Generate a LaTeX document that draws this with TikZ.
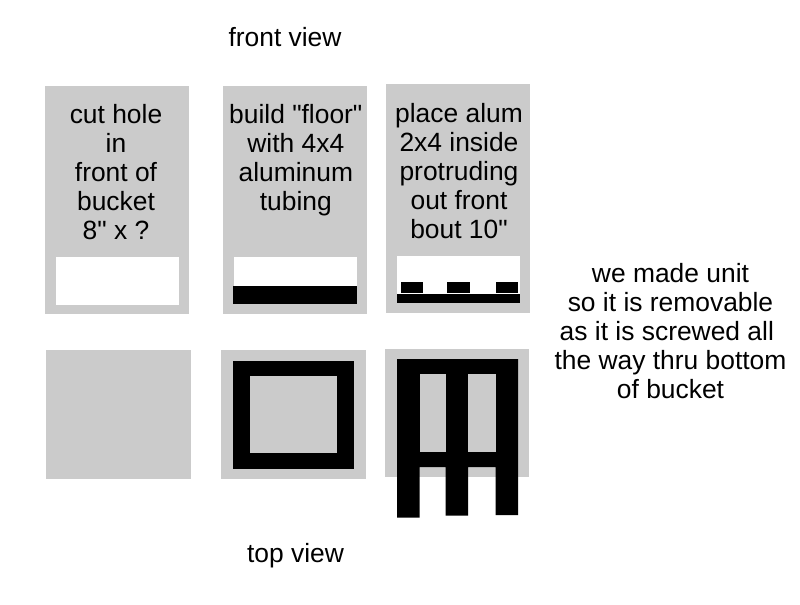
\documentclass[tikz,border=0pt]{standalone}
\usepackage{fontspec}
\setmainfont{Liberation Sans}[Ligatures=TeXOff]
\tikzset{every picture/.style={line width=0.75pt}}
\tikzset{
  note/.style={inner sep=0.75pt,font=\fontsize{19.8}{21.6}\selectfont,align=center},
  bucket/.style={fill={rgb, 255:red, 203; green, 203; blue, 203 },draw=none},
  hole/.style={fill=white,draw=none},
  alum/.style={fill=black,draw=none}
}

\begin{document}
\begin{tikzpicture}[x=0.75pt,y=0.75pt,yscale=-1,xscale=1]
    \useasboundingbox (0,0) rectangle (800,604);
    % front view
    \draw [bucket] (45,86) rectangle (189,314);
    \draw [hole] (56,257) rectangle (179,304.5);
    \draw [bucket] (222.5,86) rectangle (367,314);
    \draw [hole] (233.5,257) rectangle (356.5,286);
    \draw [alum] (232.5,285.5) rectangle (356.5,304);
    \draw [bucket] (386,84) rectangle (530,313);
    \draw [hole] (397,256) rectangle (520,294);
    \draw [alum] (397,293.5) rectangle (520,302.5);
    \draw [alum] (400.5,282) rectangle (423,292.5);
    \draw [alum] (447,282) rectangle (470,292.5);
    \draw [alum] (495.5,282) rectangle (518,292.5);
    % top view
    \draw [bucket] (46,350) rectangle (190.5,478.5);
    \draw [bucket] (221,350) rectangle (366,478.5);
    \draw [alum] (232.5,360.5) rectangle (354,468.5);
    \draw [bucket] (250,375.5) rectangle (337,453);
    \draw [bucket] (385,349) rectangle (529,477);
    \draw [alum] (397,359) -- (518,359) -- (518,515) -- (495.5,515) -- (495.5,467) -- (468,467) -- (468,515.5) -- (445.5,515.5) -- (445.5,467) -- (419.5,467) -- (419.5,517.5) -- (397,517.5) -- cycle ;
    \draw [bucket] (419.5,374) rectangle (445.5,452);
    \draw [bucket] (468,374) rectangle (495.5,452);
    % labels
    \draw (285,37) node [note] (frontview) {front view};
    \draw (295.5,555.5) node [note] (topview) {top view};
    \draw (116,172) node [note] (cuthole) {cut hole\\in\\front of\\bucket\\8" x ?};
    \draw (295.8,160) node [note] (buildfloor) {build "floor"\\with 4x4\\aluminum\\tubing};
    \draw (459,171) node [note] (placealum) {place alum\\2x4 inside\\protruding\\out front\\bout 10"};
    \draw (670.5,331) node [note] (removable) {we made unit\\so it is removable\\as it is screwed all~~\\the way thru bottom\\of bucket};
\end{tikzpicture}
\end{document}
